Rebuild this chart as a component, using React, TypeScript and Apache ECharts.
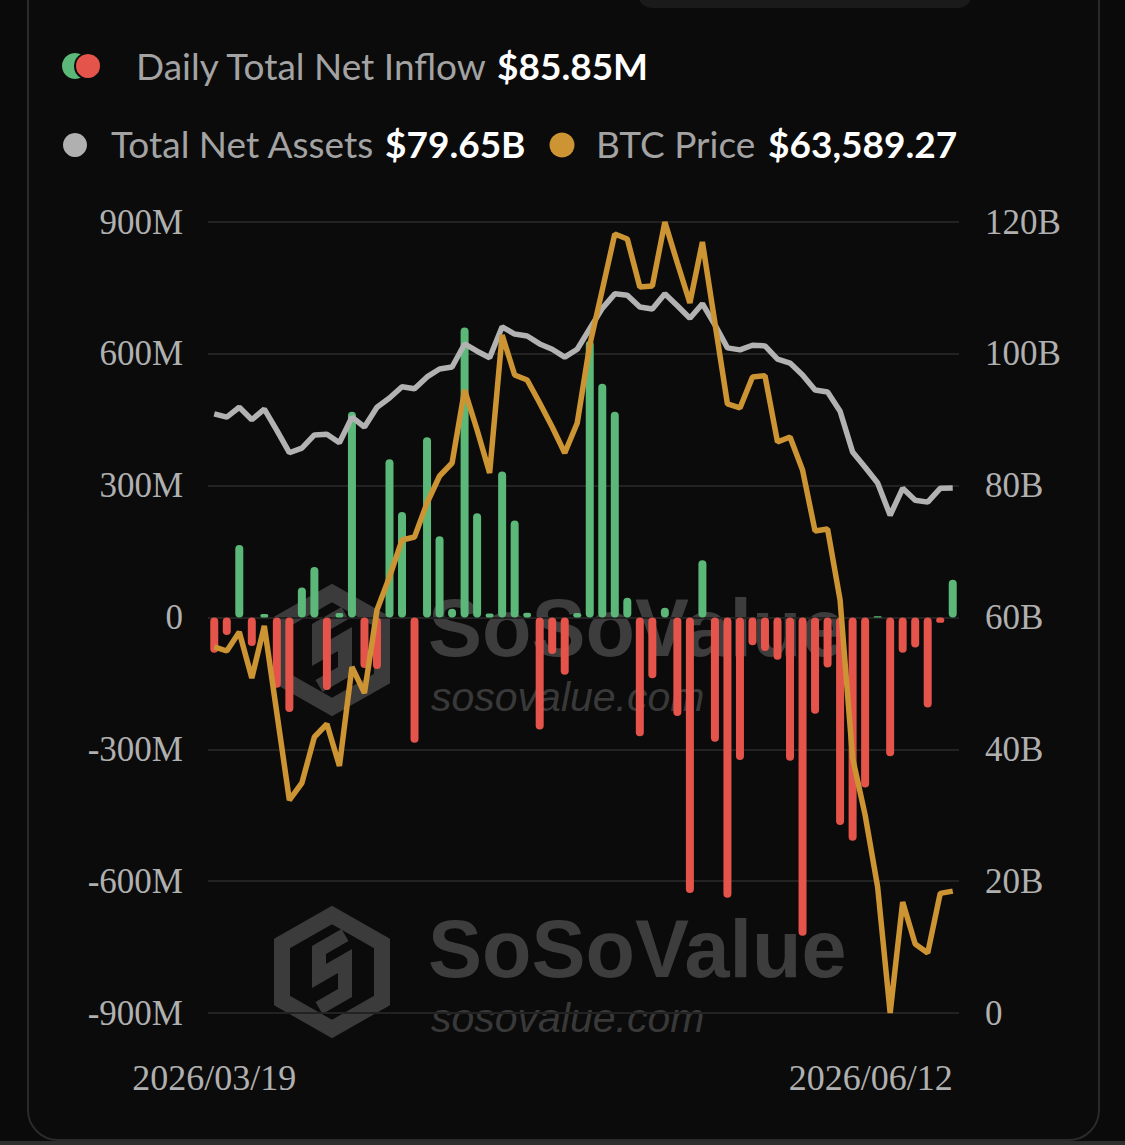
import React, { useEffect, useRef } from "react";
import * as echarts from "echarts";

const dates = [
  "2026/03/19", "2026/03/20", "2026/03/23", "2026/03/24", "2026/03/25", "2026/03/26", "2026/03/27", "2026/03/30", "2026/03/31",
  "2026/04/01", "2026/04/02", "2026/04/06", "2026/04/07", "2026/04/08", "2026/04/09", "2026/04/10",
  "2026/04/13", "2026/04/14", "2026/04/15", "2026/04/16", "2026/04/17",
  "2026/04/20", "2026/04/21", "2026/04/22", "2026/04/23", "2026/04/24",
  "2026/04/27", "2026/04/28", "2026/04/29", "2026/04/30",
  "2026/05/01", "2026/05/04", "2026/05/05", "2026/05/06", "2026/05/07", "2026/05/08",
  "2026/05/11", "2026/05/12", "2026/05/13", "2026/05/14", "2026/05/15",
  "2026/05/18", "2026/05/19", "2026/05/20", "2026/05/21", "2026/05/22",
  "2026/05/26", "2026/05/27", "2026/05/28", "2026/05/29",
  "2026/06/01", "2026/06/02", "2026/06/03", "2026/06/04", "2026/06/05",
  "2026/06/08", "2026/06/09", "2026/06/10", "2026/06/11", "2026/06/12",
];

// Daily total net inflow, in millions of USD
const netInflow = [
  -80, -40, 165, -65, 8, -160, -215, 68, 115, -165,
  10, 468, -115, -117, 360, 240, -285, 410, 185, 20,
  660, 237, 9, 332, 221, 11, -255, -83, -130, 10,
  630, 532, 468, 45, -270, -138, 22, -224, -627, 130,
  -283, -638, -324, -63, -76, -96, -326, -724, -219, -114,
  -472, -508, -387, 3, -316, -80, -68, -205, -12, 85.85,
];

// Total net assets, in billions of USD
const netAssets = [
  90.9, 90.4, 91.9, 90.0, 91.6, 88.4, 85.0, 85.7, 87.7, 87.8,
  86.5, 90.4, 88.9, 91.9, 93.3, 95.0, 94.7, 96.5, 97.7, 98.0,
  101.5, 100.4, 99.4, 104.1, 103.0, 102.7, 101.5, 100.7, 99.5, 100.7,
  103.8, 106.9, 109.1, 108.9, 107.1, 106.8, 109.1, 107.3, 105.4, 107.6,
  104.4, 100.9, 100.6, 101.3, 101.2, 99.2, 98.6, 96.8, 94.5, 94.2,
  91.3, 85.1, 82.8, 80.4, 75.5, 79.6, 77.8, 77.5, 79.6, 79.65,
];

// BTC price, USD
const btcPrice = [
  71183, 71058, 71649, 70219, 71836, 69130, 66424, 66953, 68384, 68788,
  67482, 70561, 69752, 72333, 73360, 74510, 74604, 75661, 76501, 76905,
  79175, 77931, 76594, 80886, 79642, 79486, 78771, 78025, 77216, 78149,
  80575, 82285, 84027, 83871, 82379, 82410, 84400, 83125, 81881, 83778,
  81259, 78740, 78616, 79580, 79620, 77558, 77714, 76687, 74790, 74850,
  72644, 67731, 65958, 63719, 59800, 63252, 61946, 61666, 63520, 63589.27,
];

const leftTicks = { min: -900, max: 900, interval: 300 };
const rightTicks = { min: 0, max: 120, interval: 20 };

const GREEN = "#5bb878";
const RED = "#e4544a";
const GREY = "#b2b2b2";
const ORANGE = "#cc9433";
const AXIS_TEXT = "#b0b0b0";

function logo(cx: number, cy: number) {
  const hw = 50;
  const hh = 57;
  const hex = [
    [cx, cy - hh],
    [cx + hw, cy - hh / 2],
    [cx + hw, cy + hh / 2],
    [cx, cy + hh],
    [cx - hw, cy + hh / 2],
    [cx - hw, cy - hh / 2],
  ];
  const s = [
    [13, -37], [-13, -22], [-13, 4], [13, -11], [13, 21], [-13, 36],
  ].map(([x, y]) => [cx + x, cy + y]);
  return [
    {
      type: "polygon",
      z: -10,
      silent: true,
      shape: { points: hex },
      style: { fill: "none", stroke: "#3b3b3b", lineWidth: 16, lineJoin: "miter" },
    },
    {
      type: "polyline",
      z: -10,
      silent: true,
      shape: { points: s },
      style: { fill: "none", stroke: "#3b3b3b", lineWidth: 14, lineJoin: "miter" },
    },
  ];
}

function wordmark(y1: number, y2: number) {
  return [
    {
      type: "text",
      z: -10,
      silent: true,
      x: 428,
      y: y1,
      style: {
        text: "SoSoValue",
        fill: "#3d3d3d",
        font: "700 81px 'Liberation Sans'",
        textVerticalAlign: "middle",
      },
    },
    {
      type: "text",
      z: -10,
      silent: true,
      x: 431,
      y: y2,
      style: {
        text: "sosovalue.com",
        fill: "#393939",
        font: "italic 400 41px 'Liberation Sans'",
        textVerticalAlign: "middle",
      },
    },
  ];
}

export default function App() {
  const ref = useRef<HTMLDivElement>(null);

  useEffect(() => {
    document.body.style.margin = "0";
    document.body.style.background = "#0a0a0a";
    const chart = echarts.init(ref.current!, null, { renderer: "svg" });
    const last = netInflow.length - 1;

    const inflowText = `$${netInflow[last].toFixed(2)}M`;
    const assetsText = `$${netAssets[last].toFixed(2)}B`;
    const btcText = `$${btcPrice[last].toLocaleString("en-US", { minimumFractionDigits: 2, maximumFractionDigits: 2 })}`;

    const labelFont = "400 37px Lato";
    const valueFont = "700 37px Lato";

    const option: any = {
      animation: false,
      backgroundColor: "#0a0a0a",
      grid: { left: 208, right: 166, top: 222, bottom: 132 },
      graphic: [
        {
          type: "rect",
          z: -20,
          silent: true,
          shape: { x: 28, y: -40, width: 1071, height: 1180, r: 30 },
          style: { fill: "#0b0b0b", stroke: "#2a2a2a", lineWidth: 2 },
        },
        {
          type: "rect",
          z: -19,
          silent: true,
          shape: { x: 0, y: 1141, width: 1125, height: 4 },
          style: { fill: "#2e2e2e" },
        },
        {
          type: "rect",
          z: -19,
          silent: true,
          shape: { x: 638, y: -20, width: 334, height: 28, r: 14 },
          style: { fill: "#1a1a1a" },
        },
        ...logo(332, 650),
        ...logo(332, 972),
        ...wordmark(628, 697),
        ...wordmark(949, 1018),
        // legend row 1
        { type: "circle", silent: true, shape: { cx: 75, cy: 66, r: 13 }, style: { fill: GREEN } },
        { type: "circle", silent: true, shape: { cx: 88, cy: 66, r: 13 }, style: { fill: RED, stroke: "#0b0b0b", lineWidth: 2 } },
        {
          type: "text", silent: true, x: 136, y: 65,
          style: { text: "Daily Total Net Inflow", fill: "#a3a3a3", font: labelFont, textVerticalAlign: "middle" },
        },
        {
          type: "text", silent: true, x: 497, y: 65,
          style: { text: inflowText, fill: "#ffffff", font: valueFont, textVerticalAlign: "middle" },
        },
        // legend row 2
        { type: "circle", silent: true, shape: { cx: 75, cy: 145, r: 12 }, style: { fill: "#b0b0b0" } },
        {
          type: "text", silent: true, x: 111, y: 143,
          style: { text: "Total Net Assets", fill: "#a3a3a3", font: labelFont, textVerticalAlign: "middle" },
        },
        {
          type: "text", silent: true, x: 385, y: 143,
          style: { text: assetsText, fill: "#ffffff", font: valueFont, textVerticalAlign: "middle" },
        },
        { type: "circle", silent: true, shape: { cx: 562, cy: 145, r: 12.5 }, style: { fill: ORANGE } },
        {
          type: "text", silent: true, x: 596, y: 143,
          style: { text: "BTC Price", fill: "#a3a3a3", font: labelFont, textVerticalAlign: "middle" },
        },
        {
          type: "text", silent: true, x: 768, y: 143,
          style: { text: btcText, fill: "#ffffff", font: valueFont, textVerticalAlign: "middle" },
        },
      ],
      xAxis: {
        type: "category",
        data: dates,
        axisLine: { show: false },
        axisTick: { show: false },
        splitLine: { show: false },
        axisLabel: {
          interval: (idx: number) => idx === 0 || idx === last,
          color: AXIS_TEXT,
          fontFamily: "'Liberation Serif'",
          fontSize: 36,
          margin: 47,
          alignMinLabel: "center",
          alignMaxLabel: "right",
          showMinLabel: true,
          showMaxLabel: true,
        },
      },
      yAxis: [
        {
          type: "value",
          position: "left",
          min: leftTicks.min,
          max: leftTicks.max,
          interval: leftTicks.interval,
          axisLine: { show: false },
          axisTick: { show: false },
          splitLine: { lineStyle: { color: "#222222", width: 2 } },
          axisLabel: {
            color: AXIS_TEXT,
            fontFamily: "'Liberation Serif'",
            fontSize: 35,
            margin: 25,
            formatter: (v: number) => (v === 0 ? "0" : `${v}M`),
          },
        },
        {
          type: "value",
          position: "right",
          min: rightTicks.min,
          max: rightTicks.max,
          interval: rightTicks.interval,
          axisLine: { show: false },
          axisTick: { show: false },
          splitLine: { show: false },
          axisLabel: {
            color: AXIS_TEXT,
            fontFamily: "'Liberation Serif'",
            fontSize: 35,
            margin: 26,
            formatter: (v: number) => (v === 0 ? "0" : `${v}B`),
          },
        },
        {
          type: "value",
          show: false,
          min: "dataMin",
          max: "dataMax",
          splitLine: { show: false },
        },
      ],
      series: [
        {
          name: "Daily Total Net Inflow",
          type: "bar",
          yAxisIndex: 0,
          data: netInflow,
          barWidth: 8,
          z: 2,
          itemStyle: {
            borderRadius: 4,
            color: (p: any) => (p.value >= 0 ? GREEN : RED),
          },
        },
        {
          name: "Total Net Assets",
          type: "line",
          yAxisIndex: 1,
          data: netAssets,
          symbol: "none",
          z: 3,
          lineStyle: { color: GREY, width: 5.5 },
        },
        {
          name: "BTC Price",
          type: "line",
          yAxisIndex: 2,
          data: btcPrice,
          symbol: "none",
          z: 4,
          lineStyle: { color: ORANGE, width: 5.5 },
        },
      ],
    };

    chart.setOption(option);
    return () => chart.dispose();
  }, []);

  return (
    <div
      ref={ref}
      style={{ position: "fixed", left: 0, top: 0, width: 1125, height: 1145 }}
    />
  );
}
